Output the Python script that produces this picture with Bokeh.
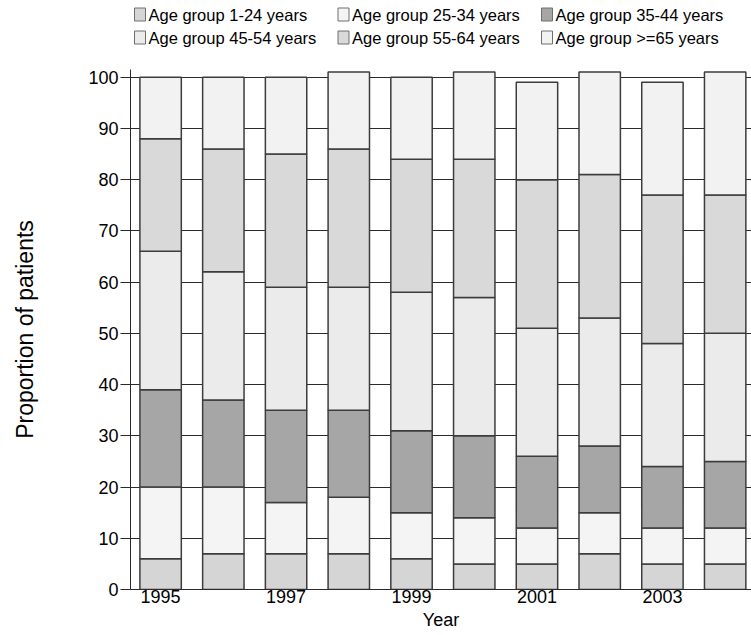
from bokeh.plotting import figure
from bokeh.layouts import column
from bokeh.models import Range1d, FixedTicker, ColumnDataSource
from bokeh.core.properties import value
from bokeh.embed import file_html
from bokeh.resources import INLINE

# ---- data (percent of patients per age group) ----
years = [1995, 1996, 1997, 1998, 1999, 2000, 2001, 2002, 2003, 2004]
group_labels = ["Age group 1-24 years", "Age group 25-34 years", "Age group 35-44 years",
                "Age group 45-54 years", "Age group 55-64 years", "Age group >=65 years"]
age_1_24 = [6, 7, 7, 7, 6, 5, 5, 7, 5, 5]
age_25_34 = [14, 13, 10, 11, 9, 9, 7, 8, 7, 7]
age_35_44 = [19, 17, 18, 17, 16, 16, 14, 13, 12, 13]
age_45_54 = [27, 25, 24, 24, 27, 27, 25, 25, 24, 25]
age_55_64 = [22, 24, 26, 27, 26, 27, 29, 28, 29, 27]
age_65_up = [12, 14, 15, 15, 16, 17, 19, 20, 22, 24]
x_tick_years = [1995, 1997, 1999, 2001, 2003]
y_ticks = [0, 10, 20, 30, 40, 50, 60, 70, 80, 90, 100]

colors = ["#d5d5d5", "#f4f4f4", "#a6a6a6", "#ebebeb", "#d9d9d9", "#f2f2f2"]
keys = ["g1", "g2", "g3", "g4", "g5", "g6"]
BAR_LINE = "#3c3c3c"

source = ColumnDataSource(dict(year=years, g1=age_1_24, g2=age_25_34, g3=age_35_44,
                               g4=age_45_54, g5=age_55_64, g6=age_65_up))

FONT = "Liberation Sans"
W = 751
LEG_H = 52
FRAME_LEFT = 130

# ---------------- main chart ----------------
p = figure(width=W, height=635 - LEG_H, output_backend="svg", toolbar_location=None,
           x_range=Range1d(1994.52, 2004.42), y_range=Range1d(0, 101.5),
           min_border_left=FRAME_LEFT, min_border_right=0, min_border_top=69 - LEG_H, min_border_bottom=46)
p.outline_line_color = None

renderers = p.vbar_stack(keys, x="year", width=0.66, source=source,
                         fill_color=colors, line_color=BAR_LINE, line_width=1.5)

p.xgrid.grid_line_color = None
p.ygrid.grid_line_color = "#2a2a2a"
p.ygrid.grid_line_width = 1

ya = p.yaxis[0]
ya.ticker = FixedTicker(ticks=y_ticks)
ya.axis_line_color = "#2a2a2a"
ya.major_tick_line_color = "#2a2a2a"
ya.major_tick_out = 10
ya.major_tick_in = 0
ya.minor_tick_line_color = None
ya.major_label_text_font = FONT
ya.major_label_text_font_size = "18px"
ya.major_label_text_color = "black"
ya.major_label_standoff = 2
ya.axis_label = "Proportion of patients"
ya.axis_label_text_font = FONT
ya.axis_label_text_font_size = "23px"
ya.axis_label_text_font_style = "normal"
ya.axis_label_text_color = "black"
ya.axis_label_standoff = 47

xa = p.xaxis[0]
xa.ticker = FixedTicker(ticks=x_tick_years)
xa.axis_line_color = "#2a2a2a"
xa.major_tick_line_color = None
xa.major_tick_out = 0
xa.major_tick_in = 0
xa.minor_tick_line_color = None
xa.major_label_text_font = FONT
xa.major_label_text_font_size = "18px"
xa.major_label_text_color = "black"
xa.major_label_standoff = 0
xa.axis_label = "Year"
xa.axis_label_text_font = FONT
xa.axis_label_text_font_size = "18px"
xa.axis_label_text_font_style = "normal"
xa.axis_label_text_color = "black"
xa.axis_label_standoff = 4

# ---------------- legend strip above the chart (page-pixel coordinates) ----------------
# the column layout aligns this strip's frame with the chart frame (x = 130 .. 751)
lf = figure(width=W, height=LEG_H, output_backend="svg", toolbar_location=None,
            x_range=Range1d(FRAME_LEFT, W), y_range=Range1d(0, LEG_H),
            x_axis_type=None, y_axis_type=None,
            min_border=0, min_border_left=0, min_border_right=0, min_border_top=0, min_border_bottom=0)
lf.outline_line_color = None
lf.xgrid.visible = False
lf.ygrid.visible = False

n_cols = 3
col_x0, col_pitch = 134, 203.5
row_y0, row_pitch = LEG_H - 14, 23
box_w, box_h = 11, 13
box_x, box_y, txt_x, txt_y = [], [], [], []
for i in range(len(group_labels)):
    r, c = divmod(i, n_cols)
    left = col_x0 + c * col_pitch
    cy = row_y0 - r * row_pitch
    box_x.append(left + box_w / 2)
    box_y.append(cy)
    txt_x.append(left + box_w + 3)
    txt_y.append(cy)

lf.rect(x=box_x, y=box_y, width=box_w, height=box_h, fill_color=colors,
        line_color="#6e6e6e", line_width=1)
lf.text(x=txt_x, y=txt_y, text=group_labels, text_font=value(FONT),
        text_font_size=value("16.5px"), text_color="black",
        text_baseline="middle", text_align="left")

layout = column(lf, p, spacing=0)
open("out.html", "w").write(file_html(layout, INLINE))
